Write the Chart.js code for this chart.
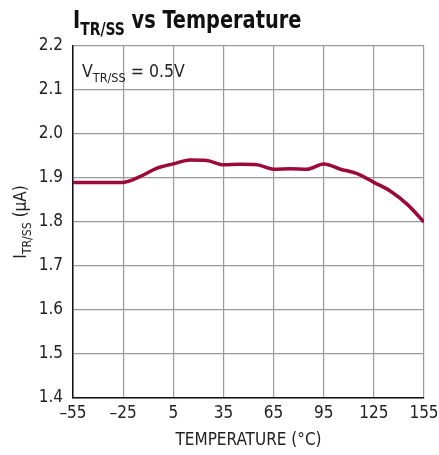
<!DOCTYPE html>
<html>
<head>
<meta charset="utf-8">
<script src="https://cdn.jsdelivr.net/npm/chart.js@4"></script>
<style>
  html, body { margin: 0; padding: 0; background: #fff; }
  #wrap { width: 439px; height: 455px; position: relative; }
</style>
</head>
<body>
<div id="wrap"><canvas id="chart" width="439" height="455"></canvas></div>
<script>
// --- Data ---
const TEMPS = [-55, -40, -25, -15, -5, 5, 15, 25, 35, 45, 55, 65, 75, 85, 95, 105, 115, 125, 135, 145, 155];
const CURRENT = [1.89, 1.89, 1.89, 1.903, 1.922, 1.932, 1.941, 1.94, 1.93, 1.931, 1.93, 1.92, 1.921, 1.92, 1.932, 1.92, 1.91, 1.89, 1.87, 1.84, 1.80];
const X_TICKS = [-55, -25, 5, 35, 65, 95, 125, 155];
const Y_TICKS = [1.4, 1.5, 1.6, 1.7, 1.8, 1.9, 2.0, 2.1, 2.2];

const FONT = '"DejaVu Sans Condensed", "Liberation Sans Narrow", sans-serif';
const LINE_COLOR = '#9b0a38';
const TEXT_COLOR = '#222';

// --- Teks dengan subscript ---
function drawSubText(ctx, parts, x, y, size) {
  let cx = x;
  for (const [txt, sub] of parts) {
    const s = sub ? size * 0.72 : size;
    ctx.font = (ctx.__bold ? 'bold ' : '') + s + 'px ' + FONT;
    ctx.fillText(txt, cx, sub ? y + size * 0.28 : y);
    cx += ctx.measureText(txt).width;
  }
  return cx - x;
}
function measureSubText(ctx, parts, size) {
  let w = 0;
  for (const [txt, sub] of parts) {
    const s = sub ? size * 0.72 : size;
    ctx.font = (ctx.__bold ? 'bold ' : '') + s + 'px ' + FONT;
    w += ctx.measureText(txt).width;
  }
  return w;
}

const labelsPlugin = {
  id: 'labels',
  afterDraw(chart) {
    const ctx = chart.ctx;
    const area = chart.chartArea;
    ctx.save();
    ctx.fillStyle = '#111';
    ctx.textAlign = 'left';
    ctx.textBaseline = 'alphabetic';

    // judul (dipersempit sedikit supaya mirip huruf condensed)
    ctx.save();
    ctx.translate(73, 28);
    ctx.scale(0.86, 1);
    ctx.__bold = true;
    drawSubText(ctx, [['I', false], ['TR/SS', true], [' vs Temperature', false]], 0, 0, 25);
    ctx.__bold = false;
    ctx.restore();

    // anotasi dalam plot
    ctx.fillStyle = TEXT_COLOR;
    drawSubText(ctx, [['V', false], ['TR/SS', true], [' = 0.5V', false]], 82, 77, 17.5);

    // judul sumbu x
    ctx.font = '17px ' + FONT;
    ctx.textAlign = 'center';
    ctx.fillText('TEMPERATURE (°C)', (area.left + area.right) / 2, 445);

    // judul sumbu y (diputar)
    const parts = [['I', false], ['TR/SS', true], [' (µA)', false]];
    ctx.textAlign = 'left';
    const w = measureSubText(ctx, parts, 17);
    ctx.translate(26, (area.top + area.bottom) / 2);
    ctx.rotate(-Math.PI / 2);
    drawSubText(ctx, parts, -w / 2, 0, 17);
    ctx.restore();
  },
};

// --- Chart ---
new Chart(document.getElementById('chart'), {
  type: 'line',
  data: {
    datasets: [{
      data: TEMPS.map((t, i) => ({ x: t, y: CURRENT[i] })),
      borderColor: LINE_COLOR,
      borderWidth: 3.5,
      pointRadius: 0,
      fill: false,
      cubicInterpolationMode: 'monotone',
    }],
  },
  options: {
    responsive: false,
    animation: false,
    layout: { padding: { top: 46, right: 15, left: 0, bottom: 0 } },
    plugins: { legend: { display: false }, tooltip: { enabled: false } },
    scales: {
      x: {
        type: 'linear',
        min: -55,
        max: 155,
        afterBuildTicks: (s) => { s.ticks = X_TICKS.map((v) => ({ value: v })); },
        afterFit: (s) => { s.height = 57; s.paddingRight = 0; s.paddingLeft = 0; },
        grid: { color: '#9a9a9a', lineWidth: 1.2, drawTicks: false },
        border: { color: '#111', width: 1.5 },
        ticks: {
          color: TEXT_COLOR,
          padding: 5,
          maxRotation: 0,
          font: { family: FONT, size: 17 },
          callback: (v) => (v < 0 ? '\u2013' + Math.abs(v) : String(v)),
        },
      },
      y: {
        min: 1.4,
        max: 2.2,
        afterBuildTicks: (s) => { s.ticks = Y_TICKS.map((v) => ({ value: v })); },
        afterFit: (s) => { s.width = 73; s.paddingTop = 0; s.paddingBottom = 0; },
        grid: { color: '#9a9a9a', lineWidth: 1.2, drawTicks: false },
        border: { color: '#111', width: 1.5 },
        ticks: {
          color: TEXT_COLOR,
          padding: 10,
          font: { family: FONT, size: 17 },
          callback: (v) => v.toFixed(1),
        },
      },
    },
  },
  plugins: [labelsPlugin],
});
</script>
</body>
</html>
